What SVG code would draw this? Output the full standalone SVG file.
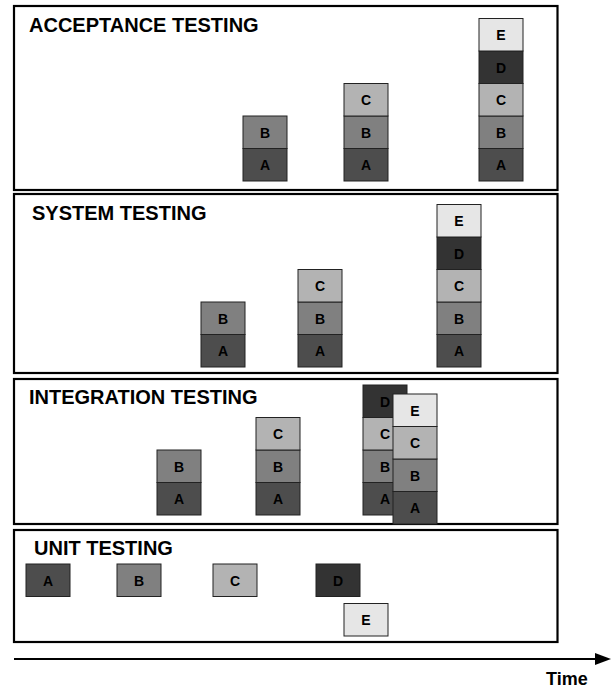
<svg xmlns="http://www.w3.org/2000/svg" width="615" height="688" viewBox="0 0 615 688">
<style>
.panel{fill:none;stroke:#000;stroke-width:2.2}
.title{font-family:"Liberation Sans",Arial,sans-serif;font-weight:bold;font-size:20px;fill:#000}
.bx{stroke:#222;stroke-width:1}
.lb{font-family:"Liberation Sans",Arial,sans-serif;font-weight:bold;font-size:14px;fill:#000;text-anchor:middle;dominant-baseline:central}
.a{fill:#4d4d4d}.b{fill:#808080}.c{fill:#b3b3b3}.d{fill:#333333}.e{fill:#e6e6e6}
</style>
<defs>
<g id="bA"><rect class="bx a" width="44" height="32.5"/><text class="lb" x="22" y="16.5">A</text></g>
<g id="bB"><rect class="bx b" width="44" height="32.5"/><text class="lb" x="22" y="16.5">B</text></g>
<g id="bC"><rect class="bx c" width="44" height="32.5"/><text class="lb" x="22" y="16.5">C</text></g>
<g id="bD"><rect class="bx d" width="44" height="32.5"/><text class="lb" x="22" y="16.5">D</text></g>
<g id="bE"><rect class="bx e" width="44" height="32.5"/><text class="lb" x="22" y="16.5">E</text></g>
</defs>

<g id="panel-acceptance">
<rect class="panel" x="14" y="6" width="543.5" height="184"/>
<text class="title" x="29" y="32">ACCEPTANCE TESTING</text>
<g>
<use href="#bA" x="243" y="148.5"/><use href="#bB" x="243" y="116"/>
<use href="#bA" x="344" y="148.5"/><use href="#bB" x="344" y="116"/><use href="#bC" x="344" y="83.5"/>
<use href="#bA" x="479" y="148.5"/><use href="#bB" x="479" y="116"/><use href="#bC" x="479" y="83.5"/><use href="#bD" x="479" y="51"/><use href="#bE" x="479" y="18.5"/>
</g>
</g>

<g id="panel-system">
<rect class="panel" x="14" y="194" width="543.5" height="179"/>
<text class="title" x="32" y="220">SYSTEM TESTING</text>
<g>
<use href="#bA" x="201" y="334.5"/><use href="#bB" x="201" y="302"/>
<use href="#bA" x="298" y="334.5"/><use href="#bB" x="298" y="302"/><use href="#bC" x="298" y="269.5"/>
<use href="#bA" x="437" y="334.5"/><use href="#bB" x="437" y="302"/><use href="#bC" x="437" y="269.5"/><use href="#bD" x="437" y="237"/><use href="#bE" x="437" y="204.5"/>
</g>
</g>

<g id="panel-integration">
<rect class="panel" x="14" y="379" width="543.5" height="145"/>
<text class="title" x="29" y="404">INTEGRATION TESTING</text>
<g>
<use href="#bA" x="157" y="482.5"/><use href="#bB" x="157" y="450"/>
<use href="#bA" x="256" y="482.5"/><use href="#bB" x="256" y="450"/><use href="#bC" x="256" y="417.5"/>
<use href="#bA" x="363" y="482.5"/><use href="#bB" x="363" y="450"/><use href="#bC" x="363" y="417.5"/><use href="#bD" x="363" y="385"/>
<use href="#bA" x="393" y="491.5"/><use href="#bB" x="393" y="459"/><use href="#bC" x="393" y="426.5"/><use href="#bE" x="393" y="394"/>
</g>
</g>

<g id="panel-unit">
<rect class="panel" x="14" y="530" width="543.5" height="112"/>
<text class="title" x="34" y="555">UNIT TESTING</text>
<g>
<use href="#bA" x="26" y="564"/>
<use href="#bB" x="117" y="564"/>
<use href="#bC" x="213" y="564"/>
<use href="#bD" x="316" y="564"/>
<use href="#bE" x="344" y="603.5"/>
</g>
</g>

<g id="connectors">
<line x1="14" y1="659" x2="597" y2="659" stroke="#000" stroke-width="2"/>
<polygon points="595,653 611,659 595,665" fill="#000"/>
</g>
<text class="title" x="546" y="685" style="font-size:18px">Time</text>
</svg>
